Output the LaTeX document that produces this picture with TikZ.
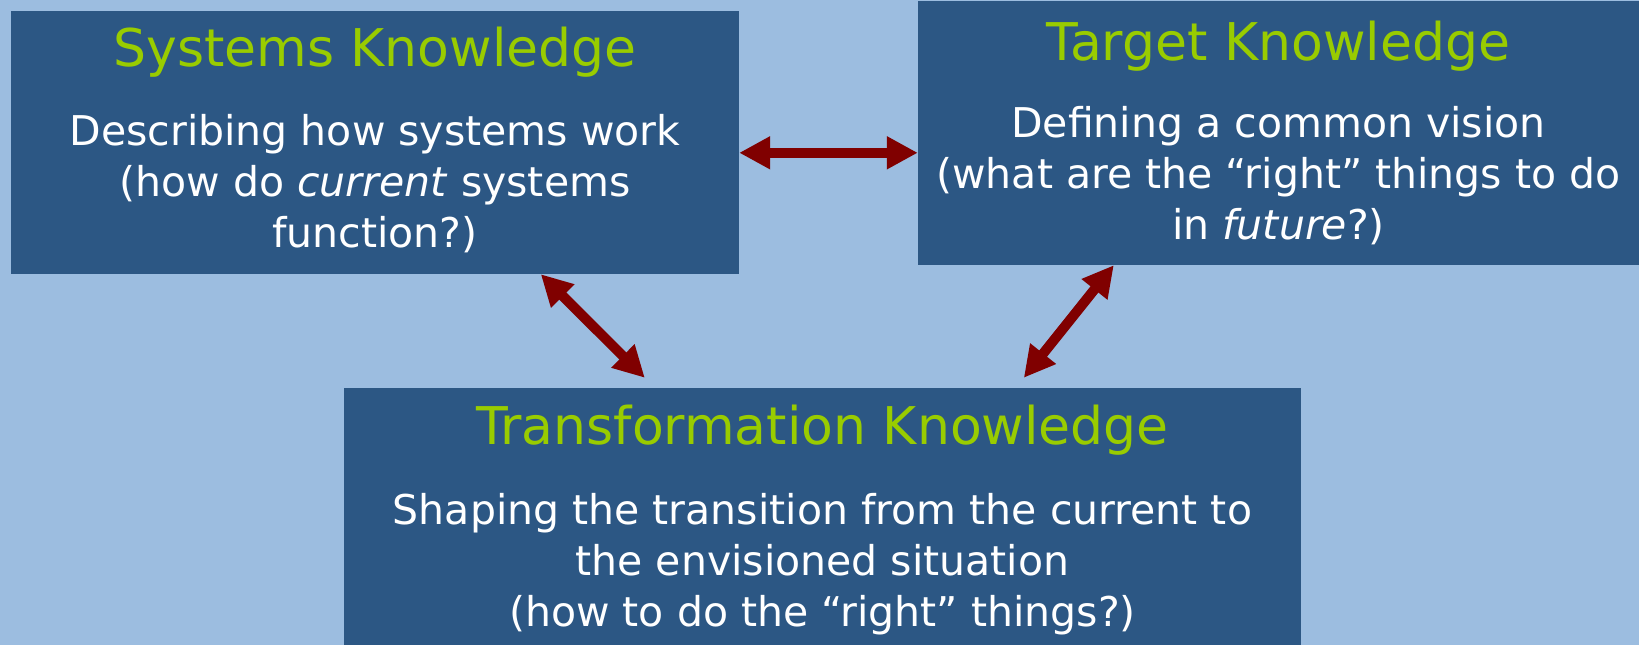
\documentclass[tikz,border=0pt]{standalone}
\usepackage{fontspec}
\setmainfont{DejaVu Sans}
\usetikzlibrary{arrows.meta,calc}
\definecolor{bgblue}{HTML}{9CBDE0}
\definecolor{boxblue}{HTML}{2C5784}
\definecolor{titlegreen}{HTML}{99CC00}
\definecolor{arrowred}{HTML}{800000}
\tikzset{
  kbox/.style={rectangle, fill=boxblue, draw=none, inner sep=0pt},
  ktitle/.style={anchor=base, text=titlegreen, inner sep=0pt, font=\fontsize{52}{62}\selectfont},
  kbody/.style={anchor=center, text=white, align=center, inner sep=0pt, font=\fontsize{41}{51}\selectfont},
  linkarrow/.style={draw=arrowred, line width=10pt, {Triangle[width=31pt,length=31pt]}-{Triangle[width=31pt,length=31pt]}}
}
\begin{document}
\begin{tikzpicture}[x=1pt,y=-1pt]
\fill[bgblue] (0,0) rectangle (1639,645);
\useasboundingbox (0,0) rectangle (1639,645);
\node[kbox, minimum width=728pt, minimum height=263pt] (sys) at (375,142.5) {};
\node[kbox, minimum width=721pt, minimum height=264pt] (tgt) at (1278.5,133) {};
\node[kbox, minimum width=957pt, minimum height=257pt] (trf) at (822.5,516.5) {};
\node[ktitle] (systitle) at (375,66) {Systems Knowledge};
\node[ktitle] (tgttitle) at (1278.5,60) {Target Knowledge};
\node[ktitle] (trftitle) at (822.5,444) {Transformation Knowledge};
\node[kbody] (sysbody) at (375,184) {Describing how systems work\\(how do \textit{current} systems\\function?)};
\node[kbody] (tgtbody) at (1278.5,176) {Defining a common vision\\(what are the “right” things to do\\in \textit{future}?)};
\node[kbody] (trfbody) at (822.5,564) {Shaping the transition from the current to\\the envisioned situation\\(how to do the “right” things?)};
\draw[linkarrow] ($(sys.north east)+(0,142)$) -- ($(tgt.north west)+(0,152)$);
\draw[linkarrow] ($(sys.south west)+(530,0)$) -- ($(trf.north west)+(301,-10)$);
\draw[linkarrow] ($(tgt.south west)+(196,0)$) -- ($(trf.north west)+(680,-10)$);
\end{tikzpicture}
\end{document}
